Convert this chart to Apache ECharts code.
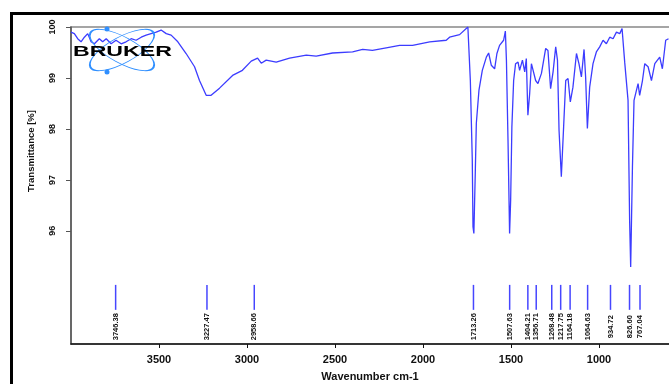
<!DOCTYPE html>
<html>
<head>
<meta charset="utf-8">
<script src="https://cdn.jsdelivr.net/npm/echarts@6/dist/echarts.min.js"></script>
<style>
  html, body { margin: 0; padding: 0; background: #fff; }
  #main { width: 669px; height: 384px; }
</style>
</head>
<body>
<div id="main"></div>
<script>
// spectrum (wavenumber cm-1 / transmittance %)
var wavenumbers = [4000, 3981, 3962, 3943, 3924, 3905, 3886, 3867, 3839, 3820,
    3800, 3772, 3744, 3715, 3687, 3658, 3630, 3601, 3573, 3545,
    3516, 3488, 3459, 3431, 3393, 3346, 3298, 3270, 3232, 3204,
    3156, 3082, 3026, 2976, 2940, 2919, 2891, 2834, 2758, 2663,
    2607, 2514, 2400, 2343, 2287, 2209, 2133, 2059, 1962, 1868,
    1849, 1792, 1745, 1731, 1720, 1716, 1711, 1703, 1697, 1682,
    1663, 1640, 1627, 1612, 1593, 1580, 1565, 1542, 1532, 1526,
    1517, 1508, 1502, 1495, 1485, 1474, 1460, 1451, 1435, 1422,
    1413, 1404, 1394, 1384, 1375, 1360, 1347, 1327, 1303, 1290,
    1275, 1261, 1246, 1236, 1227, 1214, 1201, 1189, 1176, 1163,
    1148, 1128, 1114, 1100, 1085, 1076, 1066, 1053, 1034, 1015,
    996, 977, 958, 939, 920, 901, 882, 869, 854, 835,
    826, 820, 810, 801, 787, 778, 769, 753, 740, 721,
    702, 683, 655, 640, 621, 605];
var transmittance = [99.90, 99.87, 99.77, 99.71, 99.80, 99.87, 99.71, 99.67, 99.77, 99.71,
    99.77, 99.67, 99.74, 99.67, 99.71, 99.77, 99.74, 99.80, 99.84, 99.87,
    99.90, 99.94, 99.87, 99.84, 99.71, 99.48, 99.22, 98.95, 98.66, 98.66,
    98.80, 99.05, 99.15, 99.33, 99.39, 99.29, 99.35, 99.31, 99.39, 99.45,
    99.43, 99.49, 99.51, 99.56, 99.54, 99.59, 99.64, 99.64, 99.71, 99.74,
    99.80, 99.85, 100.0, 98.95, 97.39, 96.08, 95.95, 97.13, 98.11, 98.76,
    99.15, 99.41, 99.49, 99.25, 99.18, 99.48, 99.64, 99.74, 99.92, 99.35,
    97.78, 95.95, 96.60, 98.04, 98.95, 99.28, 99.31, 99.15, 99.35, 99.12,
    99.38, 98.27, 98.69, 99.28, 99.31, 98.95, 98.89, 99.09, 99.58, 99.54,
    98.79, 99.12, 99.61, 99.35, 97.97, 97.06, 98.04, 98.95, 98.99, 98.53,
    98.82, 99.48, 99.28, 99.02, 99.56, 99.02, 98.01, 98.82, 99.28, 99.51,
    99.61, 99.74, 99.67, 99.80, 99.77, 99.90, 99.87, 99.97, 99.31, 98.56,
    96.21, 95.29, 97.25, 98.56, 98.76, 98.89, 98.66, 98.95, 99.28, 99.22,
    98.95, 99.28, 99.41, 99.18, 99.74, 99.77];

// peak picks (marker + label under the curve)
var peaks = [3746.38, 3227.47, 2958.66, 1713.26, 1507.63, 1404.21, 1356.71,
    1268.48, 1217.75, 1164.18, 1064.63, 934.72, 826.60, 767.04];

var xTicks = [3500, 3000, 2500, 2000, 1500, 1000];
var yTicks = [96, 97, 98, 99, 100];

var spectrum = wavenumbers.map(function (w, i) { return [w, transmittance[i]]; });

var LINE = '#3c3cff';
var LOGO = '#2f8fff';
var chart = echarts.init(document.getElementById('main'));

var option = {
    animation: false,
    backgroundColor: '#fff',
    textStyle: { fontFamily: 'Liberation Sans' },
    grid: {
        left: 71, top: 27, width: 616, bottom: 40,
        show: true, borderColor: '#888', borderWidth: 1.5,
        outerBoundsMode: 'none'
    },
    xAxis: {
        type: 'value',
        inverse: true,
        min: 500, max: 4000,
        axisLine: { lineStyle: { color: '#111', width: 1.5 } },
        axisTick: { customValues: xTicks, length: 4, lineStyle: { color: '#111' } },
        axisLabel: {
            customValues: xTicks, margin: 10, fontSize: 11, fontWeight: 'bold', color: '#111',
            formatter: function (v) { return String(v); }
        },
        splitLine: { show: false }
    },
    yAxis: {
        type: 'value',
        min: 93.78, max: 100,
        axisLine: { show: true, lineStyle: { color: '#555', width: 1.5 } },
        axisTick: { show: true, customValues: yTicks, length: 5, lineStyle: { color: '#555' } },
        axisLabel: { customValues: yTicks, rotate: 90, margin: 14, fontSize: 9, fontWeight: 'bold', color: '#111' },
        splitLine: { show: false }
    },
    graphic: [
        // outer frame
        { type: 'line', shape: { x1: 10, y1: 13.5, x2: 669, y2: 13.5 }, style: { stroke: '#000', lineWidth: 3 } },
        { type: 'line', shape: { x1: 11.5, y1: 12, x2: 11.5, y2: 384 }, style: { stroke: '#000', lineWidth: 3 } },
        // axis titles
        { type: 'text', x: 31, y: 151, rotation: Math.PI / 2,
          style: { text: 'Transmittance [%]', fontSize: 9.5, fontWeight: 'bold', fontFamily: 'Liberation Sans',
                   fill: '#111', align: 'center', verticalAlign: 'middle' } },
        { type: 'text', x: 370, y: 377,
          style: { text: 'Wavenumber cm-1', fontSize: 11, fontWeight: 'bold', fontFamily: 'Liberation Sans',
                   fill: '#111', align: 'center', verticalAlign: 'middle' } },
        // logo
        { type: 'circle', x: 122, y: 50, scaleY: 0.36, rotation: 0.5, shape: { cx: 0, cy: 0, r: 36 },
          style: { fill: 'none', stroke: LOGO, lineWidth: 2 }, z: 100 },
        { type: 'circle', x: 122, y: 50, scaleY: 0.36, rotation: -0.5, shape: { cx: 0, cy: 0, r: 36 },
          style: { fill: 'none', stroke: LOGO, lineWidth: 2 }, z: 100 },
        { type: 'circle', shape: { cx: 107, cy: 29, r: 2.5 }, style: { fill: LOGO }, z: 100 },
        { type: 'circle', shape: { cx: 107, cy: 72, r: 2.5 }, style: { fill: LOGO }, z: 100 },
        { type: 'text', x: 73, y: 52, scaleX: 1.65,
          style: { text: 'BRUKER', fontSize: 14, fontWeight: 'bold', fontFamily: 'Liberation Sans',
                   fill: '#000', align: 'left', verticalAlign: 'middle' }, z: 101 }
    ],
    series: [
        {
            type: 'line',
            data: spectrum,
            showSymbol: false,
            lineStyle: { color: LINE, width: 1.3 },
            z: 3
        },
        {
            type: 'custom',
            data: peaks.map(function (p) { return [p]; }),
            renderItem: function (params, api) {
                var w = api.value(0);
                var top = api.coord([w, 94.94]);
                var bot = api.coord([w, 94.45]);
                var lab = api.coord([w, 94.12]);
                return {
                    type: 'group',
                    children: [
                        { type: 'line', shape: { x1: top[0], y1: top[1], x2: bot[0], y2: bot[1] },
                          style: { stroke: '#4646ff', lineWidth: 1.5 } },
                        { type: 'text', x: lab[0], y: lab[1], rotation: Math.PI / 2,
                          style: { text: w.toFixed(2), fontSize: 7.5, fontWeight: 'bold',
                                   fontFamily: 'Liberation Sans', fill: '#111',
                                   align: 'center', verticalAlign: 'middle' } }
                    ]
                };
            }
        }
    ]
};
chart.setOption(option);
</script>
</body>
</html>
